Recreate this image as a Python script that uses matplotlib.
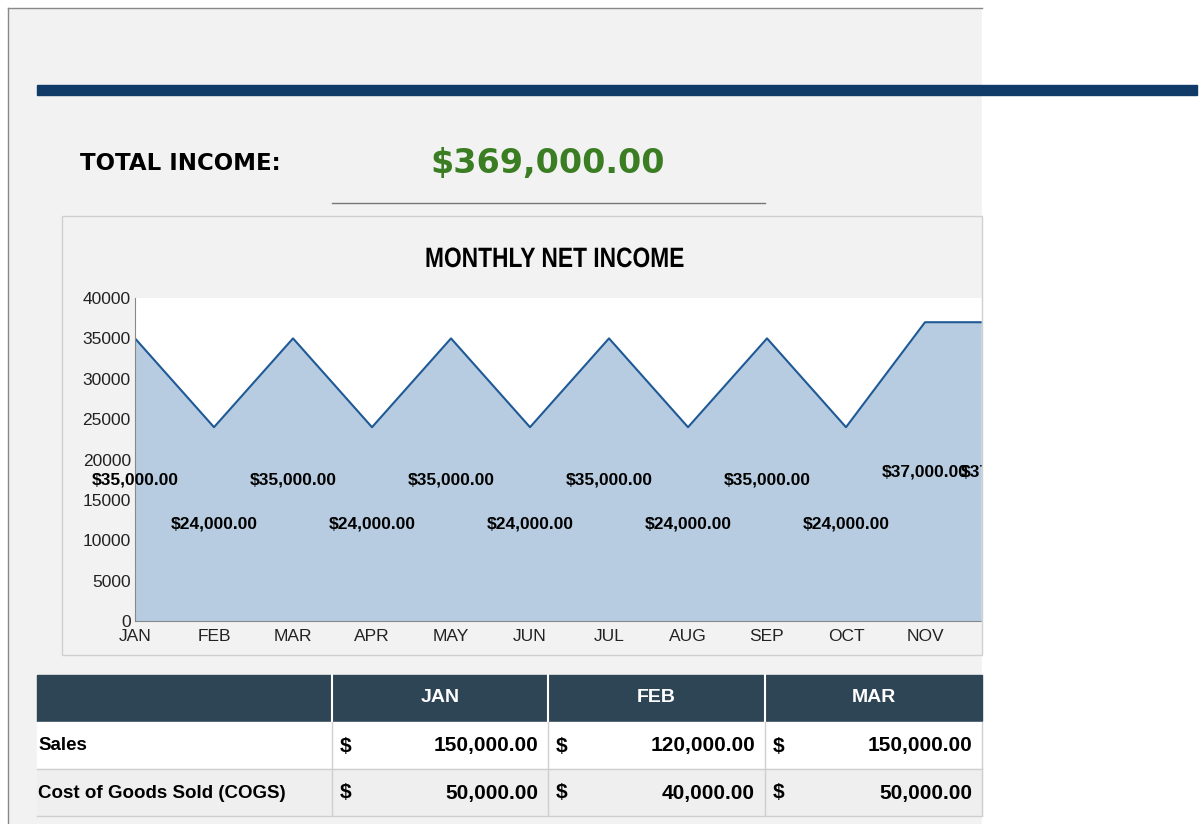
import matplotlib
matplotlib.use("Agg")
import matplotlib.pyplot as plt
from matplotlib.patches import Rectangle, PathPatch
from matplotlib.textpath import TextPath
from matplotlib.font_manager import FontProperties
from matplotlib.transforms import Affine2D

months = ["JAN","FEB","MAR","APR","MAY","JUN","JUL","AUG","SEP","OCT","NOV","DEC"]
net_income = [35000,24000,35000,24000,35000,24000,35000,24000,35000,24000,37000,37000]
yticks = [0,5000,10000,15000,20000,25000,30000,35000,40000]
total_income = "$369,000.00"
table_cols = ["JAN","FEB","MAR"]
row_labels = ["Sales","Cost of Goods Sold (COGS)"]
row_values = [["150,000.00","120,000.00","150,000.00"],["50,000.00","40,000.00","50,000.00"]]

W, H = 1200, 824
F = ['Liberation Sans', 'DejaVu Sans']
fig = plt.figure(figsize=(12, 8.24), dpi=100)
fig.patch.set_facecolor('#f2f2f2')

# chart axes
L, R, T, B = 135, 982, 298, 621
ax = fig.add_axes([L/W, 1-B/H, (R-L)/W, (B-T)/H])
ax.set_facecolor('white')
x = list(range(len(months)))
ax.fill_between(x, net_income, color='#b7cce0', zorder=1)
ax.plot(x, net_income, color='#1f5a96', lw=1.5, zorder=2)
ax.set_yticks(yticks)
ax.set_yticklabels([str(v) for v in yticks], fontsize=12.5, family=F, color='#222')
ax.set_xticks(x)
ax.set_xticklabels(months, fontsize=12.5, family=F, color='#222')
ax.set_xlim(0, (R-L)/79)
ax.set_ylim(0, 40000)
ax.tick_params(length=0, pad=6)
ax.tick_params(axis='y', pad=3)
for s in ax.spines.values():
    s.set_visible(False)
ax.spines['left'].set_visible(True); ax.spines['left'].set_color('#888')
ax.spines['bottom'].set_visible(True); ax.spines['bottom'].set_color('#888')
for i, v in enumerate(net_income):
    ax.text(i, v/2, f"${v:,.2f}", ha='center', va='center', fontsize=12.5,
            fontweight='bold', family=F, clip_on=False, zorder=3)

# overlay
ov = fig.add_axes([0, 0, 1, 1], zorder=10)
ov.set_xlim(0, W); ov.set_ylim(H, 0); ov.axis('off'); ov.patch.set_alpha(0)
ov.add_patch(Rectangle((982, 0), 300, H, color='white'))
ov.add_patch(Rectangle((0, 0), 8, H, color='white'))
ov.add_patch(Rectangle((0, 0), 982, 8, color='white'))
ov.plot([8, 8], [8, H], color='#888', lw=1)
ov.plot([8, 982], [8, 8], color='#888', lw=1)
ov.add_patch(Rectangle((37, 85), 1160, 10, color='#103a68'))
ov.text(80, 163, "TOTAL INCOME:", fontsize=16.5, fontweight='bold', family=['DejaVu Sans'], va='center')
ov.text(548, 163, total_income, fontsize=24, fontweight='bold', family=['DejaVu Sans'], va='center',
        ha='center', color='#3a7d22')
ov.plot([332, 765], [203, 203], color='#777', lw=1)
ov.add_patch(Rectangle((62, 216), 920, 439, fill=False, ec='#d0d0d0', lw=1))

# condensed title via scaled text path
tp = TextPath((0, 0), "MONTHLY NET INCOME", size=28,
              prop=FontProperties(family='Liberation Sans', weight='bold'))
bb = tp.get_extents()
sx = 257 / bb.width
tr = Affine2D().translate(-bb.x0 - bb.width/2, 0).scale(sx, -1).translate(555, 267)
ov.add_patch(PathPatch(tr.transform_path(tp), color='black', lw=0))

# table
colx = [37, 332, 548, 765, 982]
ov.add_patch(Rectangle((37, 675), 945, 46, color='#2e4556'))
for j, c in enumerate(table_cols):
    ov.text((colx[j+1]+colx[j+2])/2, 698, c, color='white', fontsize=14, fontweight='bold',
            family=F, ha='center', va='center')
    ov.plot([colx[j+1], colx[j+1]], [675, 721], color='white', lw=1.5)
for r, (lab, vals) in enumerate(zip(row_labels, row_values)):
    y0 = 722 + r*47
    ov.add_patch(Rectangle((37, y0), 945, 46, color='white' if r == 0 else '#efefef'))
    ov.plot([37, 982], [y0+46.5, y0+46.5], color='#cfcfcf', lw=1)
    yc = y0 + 24
    ov.text(38, yc, lab, fontsize=13.5, fontweight='bold', family=F, va='center')
    for j, v in enumerate(vals):
        ov.text(colx[j+1]+8, yc, "$", fontsize=15, fontweight='bold', family=F, va='center')
        ov.text(colx[j+2]-10, yc, v, fontsize=15, fontweight='bold', family=F,
                va='center', ha='right')
    for cx in colx[1:]:
        ov.plot([cx, cx], [y0, y0+46], color='#cfcfcf', lw=1)

fig.savefig("out.png", dpi=100)
